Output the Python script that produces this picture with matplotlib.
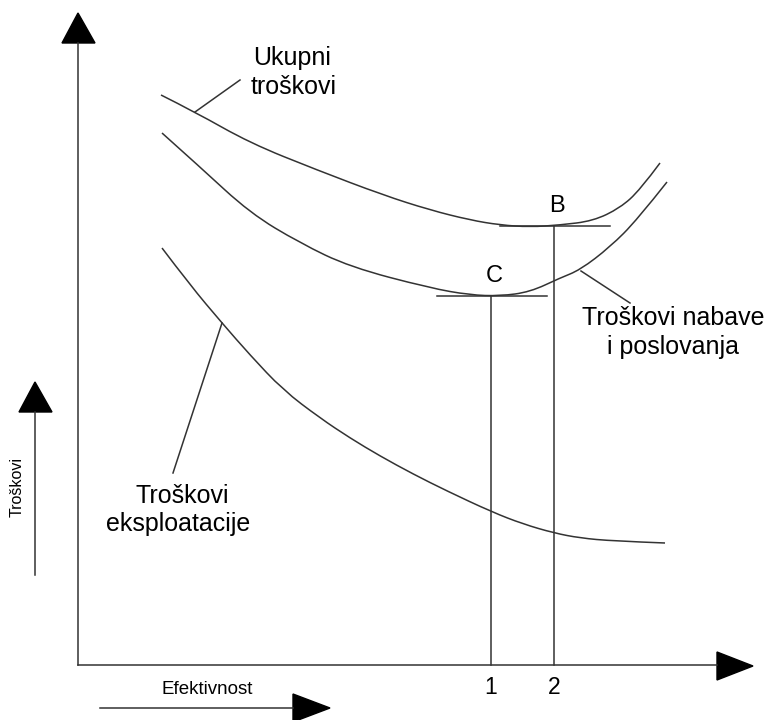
import matplotlib
matplotlib.use("Agg")
import matplotlib.pyplot as plt
from matplotlib.path import Path
from matplotlib.patches import PathPatch

# ---- data (pixel space) ----
ukupni_x = [161, 195, 250, 317, 383, 430, 470, 500, 530, 560, 593, 620, 640, 660]
ukupni_y = [95, 112, 143, 170, 195, 210, 220, 225, 227, 225, 221, 208, 190, 163]

nabave_x = [162, 200, 250, 300, 350, 430, 470, 500, 530, 560, 580, 610, 637, 667]
nabave_y = [133, 167, 213, 243, 267, 288, 295, 296, 292, 278, 270, 247, 220, 182]

eksp_x = [162, 190, 222, 250, 283, 320, 350, 380, 413, 447, 492, 523, 554, 580, 613, 665]
eksp_y = [248, 285, 323, 355, 390, 418, 438, 456, 474, 491, 512, 524, 533, 538, 541, 543]

point_labels = ["C", "B"]
point_x = [491, 554]
point_y = [296, 226]
tangent_x0 = [437, 500]
tangent_x1 = [547, 610]
tick_labels = ["1", "2"]

axis_origin = (78, 665)
axis_y_top = 43
axis_x_right = 717

color = "#333333"
lw = 1.1

fig = plt.figure(figsize=(7.77, 7.2), dpi=100)
ax = fig.add_axes([0, 0, 1, 1])
ax.set_xlim(0, 777)
ax.set_ylim(720, 0)
ax.axis("off")


def smooth_curve(xs, ys):
    pts = list(zip(xs, ys))
    verts = [pts[0]]
    codes = [Path.MOVETO]
    for i in range(1, len(pts) - 1):
        nxt = pts[i + 1]
        end = nxt if i == len(pts) - 2 else ((pts[i][0] + nxt[0]) / 2, (pts[i][1] + nxt[1]) / 2)
        verts += [pts[i], end]
        codes += [Path.CURVE3, Path.CURVE3]
    ax.add_patch(PathPatch(Path(verts, codes), facecolor="none",
                           edgecolor=color, lw=lw))


# main axes
ox, oy = axis_origin
ax.plot([ox, ox], [oy, axis_y_top], color=color, lw=lw)
ax.plot([ox, axis_x_right], [oy, oy], color=color, lw=lw)
ax.fill([ox, ox - 16, ox + 17], [13, axis_y_top, axis_y_top], color="black")
ax.fill([753, axis_x_right, axis_x_right], [oy + 1, 652, 680], color="black")

# small axis arrows
ax.plot([35, 35], [575, 412], color=color, lw=lw)
ax.fill([35, 19, 52], [382, 412, 412], color="black")
ax.plot([100, 293], [708, 708], color=color, lw=lw)
ax.fill([330, 293, 293], [708, 694, 722], color="black")

fam = ["Liberation Sans", "DejaVu Sans"]
ax.text(17, 487, "Troškovi", rotation=90, ha="center", va="center",
        fontsize=11.5, family=fam)
ax.text(207, 690, "Efektivnost", ha="center", va="center", fontsize=13.5, family=fam)

# curves
smooth_curve(ukupni_x, ukupni_y)
smooth_curve(nabave_x, nabave_y)
smooth_curve(eksp_x, eksp_y)

# tangents and verticals
for lab, px, py, x0, x1, tl in zip(point_labels, point_x, point_y,
                                    tangent_x0, tangent_x1, tick_labels):
    ax.plot([x0, x1], [py, py], color=color, lw=lw)
    ax.plot([px, px], [py, oy], color=color, lw=lw)
    ax.text(px + 3, py - 20, lab, ha="center", va="center", fontsize=17, family=fam)
    ax.text(px, oy + 23, tl, ha="center", va="center", fontsize=16.5, family=fam)

# leader lines
ax.plot([195, 240], [112, 80], color=color, lw=lw)
ax.plot([581, 630], [271, 303], color=color, lw=lw)
ax.plot([222, 173], [323, 473], color=color, lw=lw)

# labels
fs = 18
ax.text(253, 58, "Ukupni", ha="left", va="center", fontsize=fs, family=fam)
ax.text(251, 87, "troškovi", ha="left", va="center", fontsize=fs, family=fam)
ax.text(673, 318, "Troškovi nabave", ha="center", va="center", fontsize=fs, family=fam)
ax.text(673, 347, "i poslovanja", ha="center", va="center", fontsize=fs, family=fam)
ax.text(182, 496, "Troškovi", ha="center", va="center", fontsize=fs, family=fam)
ax.text(178, 524, "eksploatacije", ha="center", va="center", fontsize=fs, family=fam)

fig.savefig("out.png", dpi=100, facecolor="white")
